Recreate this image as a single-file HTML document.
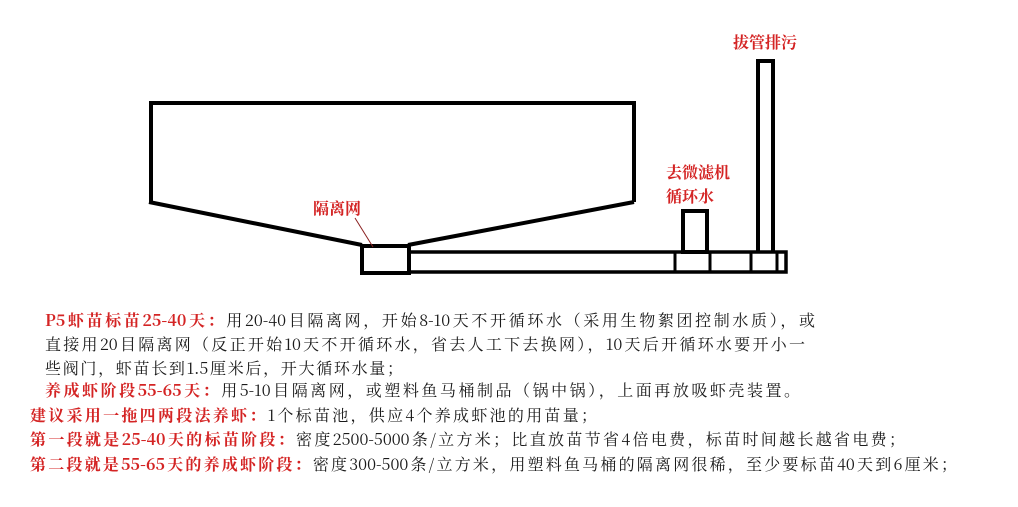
<!DOCTYPE html>
<html><head><meta charset="utf-8"><style>
body{margin:0;width:1018px;height:507px;background:#fff;overflow:hidden;position:relative;font-family:"Noto Serif CJK SC","Liberation Serif",serif;}
.t{position:absolute;font-size:16px;white-space:nowrap;color:#1a1a1a;line-height:20px;text-align:justify;text-align-last:justify;text-justify:inter-character;overflow:hidden;height:22px}
.r{color:#d42424;font-weight:bold}
.l{position:absolute;font-size:16px;font-weight:bold;color:#d42424;white-space:nowrap;line-height:20px}
</style></head><body>
<svg width="1018" height="507" style="position:absolute;left:0;top:0">
<g fill="none" stroke="#000" stroke-width="4">
<polyline points="151,202 151,103 634,103 634,202"/>
<line x1="149" y1="202" x2="362" y2="245"/>
<line x1="634" y1="202" x2="408" y2="245"/>
<rect x="362" y="246" width="47" height="27"/>
<rect x="409" y="252" width="377" height="20" stroke-width="3.5"/>
<line x1="675" y1="252" x2="675" y2="272" stroke-width="3"/>
<line x1="710" y1="252" x2="710" y2="272" stroke-width="3"/>
<line x1="751" y1="252" x2="751" y2="272" stroke-width="3"/>
<line x1="777" y1="252" x2="777" y2="272" stroke-width="3"/>
<rect x="683" y="211" width="24" height="41"/>
<polyline points="758,251 758,61 773,61 773,251"/>
</g>
<line x1="355" y1="218" x2="373" y2="247" stroke="#8a2020" stroke-width="1"/>
</svg>
<div class="l" style="left:313px;top:198px">隔离网</div>
<div class="l" style="left:666px;top:162px">去微滤机</div>
<div class="l" style="left:666px;top:186px">循环水</div>
<div class="l" style="left:733px;top:32px">拔管排污</div>
<div class="t" style="left:45px;top:310px;width:770px"><span class="r">P5虾苗标苗25-40天：</span>用20-40目隔离网，开始8-10天不开循环水（采用生物絮团控制水质），或</div>
<div class="t" style="left:45px;top:334px;width:760px">直接用20目隔离网（反正开始10天不开循环水，省去人工下去换网），10天后开循环水要开小一</div>
<div class="t" style="left:45px;top:358px;width:358px">些阀门，虾苗长到1.5厘米后，开大循环水量；</div>
<div class="t" style="left:45px;top:380px;width:755px"><span class="r">养成虾阶段55-65天：</span>用5-10目隔离网，或塑料鱼马桶制品（锅中锅），上面再放吸虾壳装置。</div>
<div class="t" style="left:30px;top:405px;width:567px"><span class="r">建议采用一拖四两段法养虾：</span>1个标苗池，供应4个养成虾池的用苗量；</div>
<div class="t" style="left:30px;top:429px;width:875px"><span class="r">第一段就是25-40天的标苗阶段：</span>密度2500-5000条/立方米；比直放苗节省4倍电费，标苗时间越长越省电费；</div>
<div class="t" style="left:30px;top:454px;width:927px"><span class="r">第二段就是55-65天的养成虾阶段：</span>密度300-500条/立方米，用塑料鱼马桶的隔离网很稀，至少要标苗40天到6厘米；</div>
</body></html>
